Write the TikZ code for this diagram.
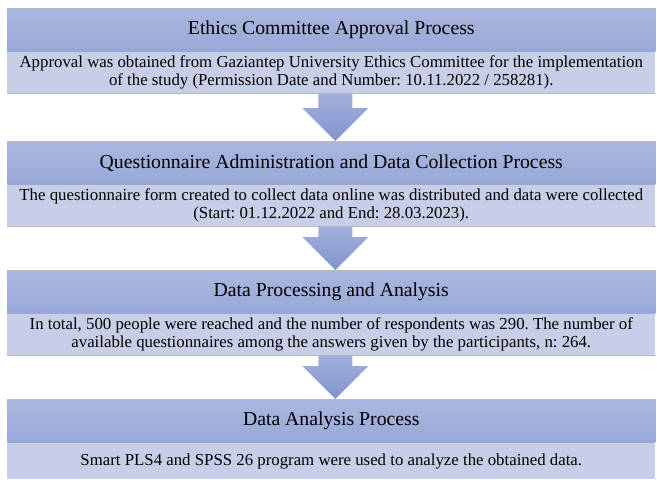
\documentclass[tikz,border=0pt]{standalone}
\usepackage{fontspec}
\setmainfont{Liberation Serif}
\usetikzlibrary{positioning,calc}
\frenchspacing

% block arrow from the bottom of one stage to the top of the next
\newcommand{\stagearrow}[2]{%
  \shade[top color=arrowtop,bottom color=arrowbot]
    ($(#1.south)+(-13,0)$) -- ($(#1.south)+(21,0)$)
    -- ($(#2.north)+(21,-33)$) -- ($(#2.north)+(37,-33)$)
    -- ($(#2.north)+(4,0)$)
    -- ($(#2.north)+(-29,-33)$) -- ($(#2.north)+(-13,-33)$) -- cycle;}

\begin{document}
\begin{tikzpicture}[x=0.75pt,y=-0.75pt,
    stagehead/.style={minimum width=486pt,minimum height=32.5pt,inner sep=0pt,
      top color=headtop,bottom color=headbot,
      font=\fontsize{14.8}{17}\selectfont},
    stagetext/.style={minimum width=486pt,minimum height=30.75pt,inner sep=0pt,
      fill=bodyblue,align=center,font=\fontsize{12.6}{13.8}\selectfont},
    edgeline/.style={draw=gray!55,line width=0.6pt}]
    \definecolor{headtop}{HTML}{ABB7DF}
    \definecolor{headbot}{HTML}{98A8D7}
    \definecolor{bodyblue}{HTML}{C9CEE8}
    \definecolor{arrowtop}{HTML}{A3B0DC}
    \definecolor{arrowbot}{HTML}{8194CF}
    \useasboundingbox (0,0) rectangle (657,479);
    % Etik kurul
    \node[stagehead,anchor=north west] (head1) at (7,8) {Ethics Committee Approval Process};
    \node[stagetext,below=0pt of head1] (text1)
      {Approval was obtained from Gaziantep University Ethics Committee for the implementation\\
       of the study (Permission Date and Number: 10.11.2022 / 258281).};
    % Anket uygulama
    \node[stagehead,anchor=north west] (head2) at (7,141) {Questionnaire Administration and Data Collection Process};
    \node[stagetext,below=0pt of head2] (text2)
      {The questionnaire form created to collect data online was distributed and data were collected\\
       (Start: 01.12.2022 and End: 28.03.2023).};
    % Veri isleme
    \node[stagehead,anchor=north west] (head3) at (7,270) {Data Processing and Analysis};
    \node[stagetext,below=0pt of head3] (text3)
      {In total, 500 people were reached and the number of respondents was 290. The number of\\
       available questionnaires among the answers given by the participants, n: 264.};
    % Analiz
    \node[stagehead,anchor=north west] (head4) at (7,399) {Data Analysis Process};
    \node[stagetext,below=0pt of head4,minimum height=27pt] (text4)
      {Smart PLS4 and SPSS 26 program were used to analyze the obtained data.};
    % ince golge cizgileri
    \foreach \s in {1,2,3,4}
      \draw[edgeline] (head\s.north west) -- (head\s.north east);
    \foreach \s in {1,2,3}
      \draw[edgeline] (text\s.south west) -- (text\s.south east);
    \stagearrow{text1}{head2}
    \stagearrow{text2}{head3}
    \stagearrow{text3}{head4}
  \end{tikzpicture}
\end{document}
